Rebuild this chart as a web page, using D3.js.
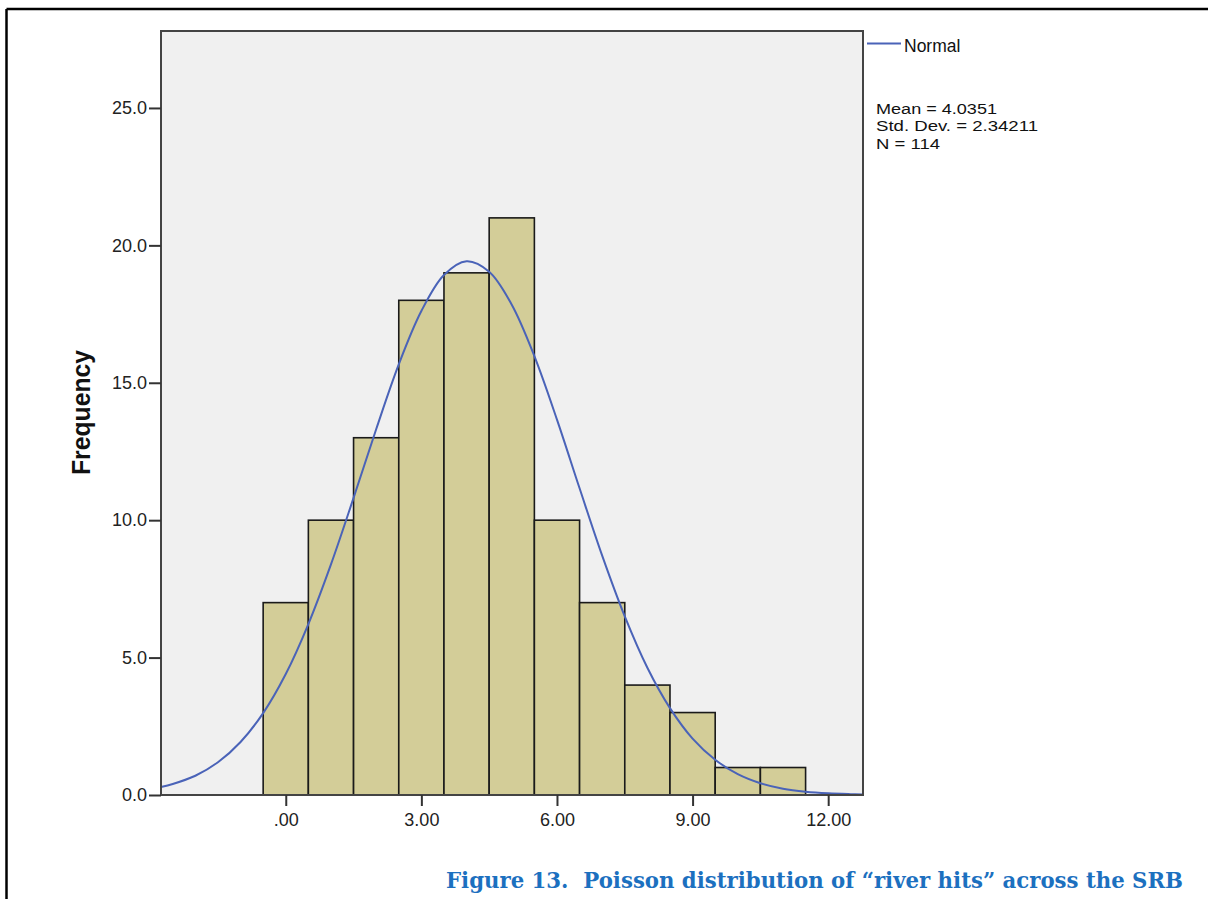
<!DOCTYPE html>
<html>
<head>
<meta charset="utf-8">
<script src="https://cdn.jsdelivr.net/npm/d3@7"></script>
<style>
  body { margin: 0; background: #fff; }
  svg { display: block; }
  .tick text { font-family: 'Liberation Sans', Arial, sans-serif; font-size: 18px; fill: #222; }
  .tick line { stroke: #333; stroke-width: 2px; }
</style>
</head>
<body>
<svg width="1208" height="899"></svg>
<script>
// histogram bins (centre of each bin) and counts
const binCenters = [0, 1, 2, 3, 4, 5, 6, 7, 8, 9, 10, 11];
const frequencies = [7, 10, 13, 18, 19, 21, 10, 7, 4, 3, 1, 1];

// normal curve
const curveX = [-2.76, -2.5, -2, -1.5, -1, -0.5, 0, 0.5, 1, 1.5, 2, 2.5, 3, 3.5, 4, 4.5, 5, 5.5, 6, 6.5, 7, 7.5, 8, 8.5, 9, 9.5, 10, 10.5, 11, 11.5, 12, 12.5, 12.77];
const curveY = [0.29, 0.40, 0.70, 1.19, 1.93, 2.98, 4.40, 6.22, 8.39, 10.81, 13.31, 15.67, 17.61, 18.92, 19.42, 19.04, 17.84, 15.97, 13.66, 11.16, 8.71, 6.50, 4.63, 3.16, 2.05, 1.28, 0.76, 0.43, 0.23, 0.12, 0.06, 0.03, 0.02];

const yTicks = [0, 5, 10, 15, 20, 25];
const xTicks = [0, 3, 6, 9, 12];
const xTickLabels = [".00", "3.00", "6.00", "9.00", "12.00"];

const statsLines = ["Mean = 4.0351", "Std. Dev. = 2.34211", "N = 114"];
const statsWidths = [121, 162, 64];
const caption = "Figure 13.  Poisson distribution of \u201criver hits\u201d across the SRB";

const plotLeft = 161, plotRight = 863, plotTop = 31, plotBottom = 795;
const svg = d3.select('svg');

const x = d3.scaleLinear().domain([-2.76, 12.77]).range([plotLeft, plotRight]);
const y = d3.scaleLinear().domain([0, 27.8]).range([plotBottom, plotTop]);

// page border (top and left only)
svg.append('line').attr('x1', 6.5).attr('x2', 1208).attr('y1', 9).attr('y2', 9)
  .attr('stroke', '#000').attr('stroke-width', 2.5);
svg.append('line').attr('x1', 6.5).attr('x2', 6.5).attr('y1', 9).attr('y2', 899)
  .attr('stroke', '#000').attr('stroke-width', 2.5);

// plot background
svg.append('rect')
  .attr('x', plotLeft).attr('y', plotTop)
  .attr('width', plotRight - plotLeft).attr('height', plotBottom - plotTop)
  .attr('fill', '#f0f0f0');

// bars
svg.selectAll('rect.bar')
  .data(binCenters)
  .enter()
  .append('rect')
  .attr('class', 'bar')
  .attr('x', d => x(d - 0.5))
  .attr('y', (d, i) => y(frequencies[i]))
  .attr('width', d => x(d + 0.5) - x(d - 0.5))
  .attr('height', (d, i) => y(0) - y(frequencies[i]))
  .attr('fill', '#d3cd98')
  .attr('stroke', '#1a1a1a')
  .attr('stroke-width', 1.6);

// normal curve
const line = d3.line()
  .x(d => x(d[0]))
  .y(d => y(d[1]))
  .curve(d3.curveCatmullRom);

svg.append('path')
  .datum(curveX.map((v, i) => [v, curveY[i]]))
  .attr('d', line)
  .attr('fill', 'none')
  .attr('stroke', '#4a63b8')
  .attr('stroke-width', 2);

// frame
svg.append('rect')
  .attr('x', plotLeft).attr('y', plotTop)
  .attr('width', plotRight - plotLeft).attr('height', plotBottom - plotTop)
  .attr('fill', 'none')
  .attr('stroke', '#444')
  .attr('stroke-width', 2);

// axes
const yAxis = d3.axisLeft(y).tickValues(yTicks).tickSize(12).tickPadding(2)
  .tickFormat(d3.format('.1f'));
const gy = svg.append('g')
  .attr('transform', 'translate(' + plotLeft + ',0)')
  .call(yAxis);
gy.select('.domain').remove();

const xAxis = d3.axisBottom(x).tickValues(xTicks).tickSize(11).tickPadding(7)
  .tickFormat((d, i) => xTickLabels[i]);
const gx = svg.append('g')
  .attr('transform', 'translate(0,' + plotBottom + ')')
  .call(xAxis);
gx.select('.domain').remove();

// y axis title
svg.append('text')
  .attr('transform', 'translate(90,' + ((350 + 475) / 2) + ') rotate(-90)')
  .attr('text-anchor', 'middle')
  .attr('textLength', 125)
  .attr('lengthAdjust', 'spacingAndGlyphs')
  .style('font-family', "'Liberation Sans', Arial, sans-serif")
  .style('font-weight', 'bold')
  .style('font-size', '25px')
  .attr('fill', '#111')
  .text('Frequency');

// legend
svg.append('line')
  .attr('x1', 867).attr('x2', 901).attr('y1', 43.5).attr('y2', 43.5)
  .attr('stroke', '#4a63b8').attr('stroke-width', 2);
svg.append('text')
  .attr('x', 904).attr('y', 52)
  .style('font-family', "'Liberation Sans', Arial, sans-serif")
  .style('font-size', '17.5px')
  .attr('fill', '#111')
  .text('Normal');

svg.selectAll('text.stats')
  .data(statsLines)
  .enter()
  .append('text')
  .attr('class', 'stats')
  .attr('x', 876)
  .attr('y', (d, i) => 113.5 + i * 17.7)
  .attr('textLength', (d, i) => statsWidths[i])
  .attr('lengthAdjust', 'spacingAndGlyphs')
  .style('font-family', "'Liberation Sans', Arial, sans-serif")
  .style('font-size', '15.3px')
  .attr('fill', '#111')
  .text(d => d);

// caption
svg.append('text')
  .attr('x', 446).attr('y', 888)
  .attr('textLength', 737)
  .attr('lengthAdjust', 'spacingAndGlyphs')
  .style('font-family', "'DejaVu Serif', serif")
  .style('font-weight', 'bold')
  .style('font-size', '22px')
  .attr('fill', '#1c70bf')
  .style('white-space', 'pre')
  .text(caption);
</script>
</body>
</html>
